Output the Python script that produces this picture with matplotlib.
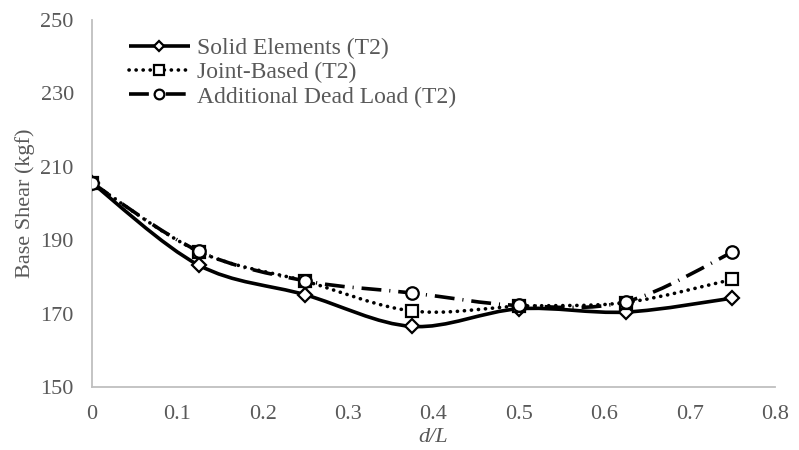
import matplotlib
matplotlib.use('Agg')
import matplotlib.pyplot as plt
from matplotlib.path import Path
from matplotlib.patches import PathPatch
from matplotlib.lines import Line2D
import numpy as np

plt.rcParams.update({
    'font.family': 'Liberation Serif',
    'axes.spines.top': False,
    'axes.spines.right': False,
})

GREY = '#595959'
AXIS = '#BFBFBF'

# data
d_over_l = [0, 0.125, 0.25, 0.375, 0.5, 0.625, 0.75]
solid_elements = [205.6, 183.2, 175.1, 166.5, 171.3, 170.4, 174.2]
joint_based = [205.6, 186.9, 178.8, 170.7, 172.0, 173.0, 179.3]
dead_load = [205.6, 187.0, 178.9, 175.6, 172.2, 173.2, 186.7]

labels = ['Solid Elements (T2)', 'Joint-Based (T2)', 'Additional Dead Load (T2)']
x_ticks = [0, 0.1, 0.2, 0.3, 0.4, 0.5, 0.6, 0.7, 0.8]
x_ticklabels = ['0', '0.1', '0.2', '0.3', '0.4', '0.5', '0.6', '0.7', '0.8']
y_ticks = [150, 170, 190, 210, 230, 250]


def smooth_path(x, y):
    # Excel-like smoothed line (Catmull-Rom as cubic Bezier)
    pts = np.column_stack([x, y]).astype(float)
    n = len(pts)
    verts = [pts[0]]
    codes = [Path.MOVETO]
    for i in range(n - 1):
        p0 = pts[max(i - 1, 0)]
        p1 = pts[i]
        p2 = pts[i + 1]
        p3 = pts[min(i + 2, n - 1)]
        verts += [p1 + (p2 - p0) / 6, p2 - (p3 - p1) / 6, p2]
        codes += [Path.CURVE4] * 3
    return Path(verts, codes)


styles = [
    dict(ls='-', lw=2.6, marker='D', ms=7.5, cap='butt'),
    dict(ls=(0, (0.05, 1.9)), lw=2.6, marker='s', ms=9, cap='round'),
    dict(ls=(0, (5.5, 2.2, 0.3, 2.2)), lw=2.6, marker='o', ms=9, cap='butt'),
]

fig = plt.figure(figsize=(7.99, 4.5), dpi=100)
ax = fig.add_axes([0.115, 0.14, 0.855, 0.816])

handles = []
for yv, st, lab in zip([solid_elements, joint_based, dead_load], styles, labels):
    patch = PathPatch(smooth_path(d_over_l, yv), fill=False, edgecolor='black',
                      lw=st['lw'], linestyle=st['ls'], capstyle=st['cap'], zorder=2)
    ax.add_patch(patch)
    ax.plot(d_over_l, yv, linestyle='none', marker=st['marker'], ms=st['ms'],
            mfc='white', mec='black', mew=1.6, zorder=3)
    h = Line2D([], [], color='black', lw=st['lw'], linestyle=st['ls'],
               marker=st['marker'], ms=st['ms'] - 2, mfc='white', mec='black', mew=1.6,
               solid_capstyle=st['cap'], dash_capstyle=st['cap'])
    handles.append((h, lab))

ax.set_xlim(0, 0.8)
ax.set_ylim(150, 250)
ax.set_xticks(x_ticks)
ax.set_xticklabels(x_ticklabels)
ax.set_yticks(y_ticks)
ax.tick_params(length=0, labelsize=16, labelcolor=GREY)
ax.tick_params(axis='x', pad=13)
ax.tick_params(axis='y', pad=13)
for sp in ['left', 'bottom']:
    ax.spines[sp].set_color(AXIS)
    ax.spines[sp].set_linewidth(1.3)

ax.set_ylabel('Base Shear (kgf)', fontsize=16, color=GREY, labelpad=4)
ax.set_xlabel('d/L', fontsize=16, color=GREY, style='italic', labelpad=3)

leg = ax.legend([h for h, _ in handles], [l for _, l in handles],
                loc='upper left', bbox_to_anchor=(0.04, 0.978), frameon=False,
                fontsize=17, handlelength=2.6, handletextpad=0.3,
                labelspacing=0.12, numpoints=1, borderaxespad=0)
for t in leg.get_texts():
    t.set_color(GREY)

fig.savefig('out.png', dpi=100, facecolor='white')
